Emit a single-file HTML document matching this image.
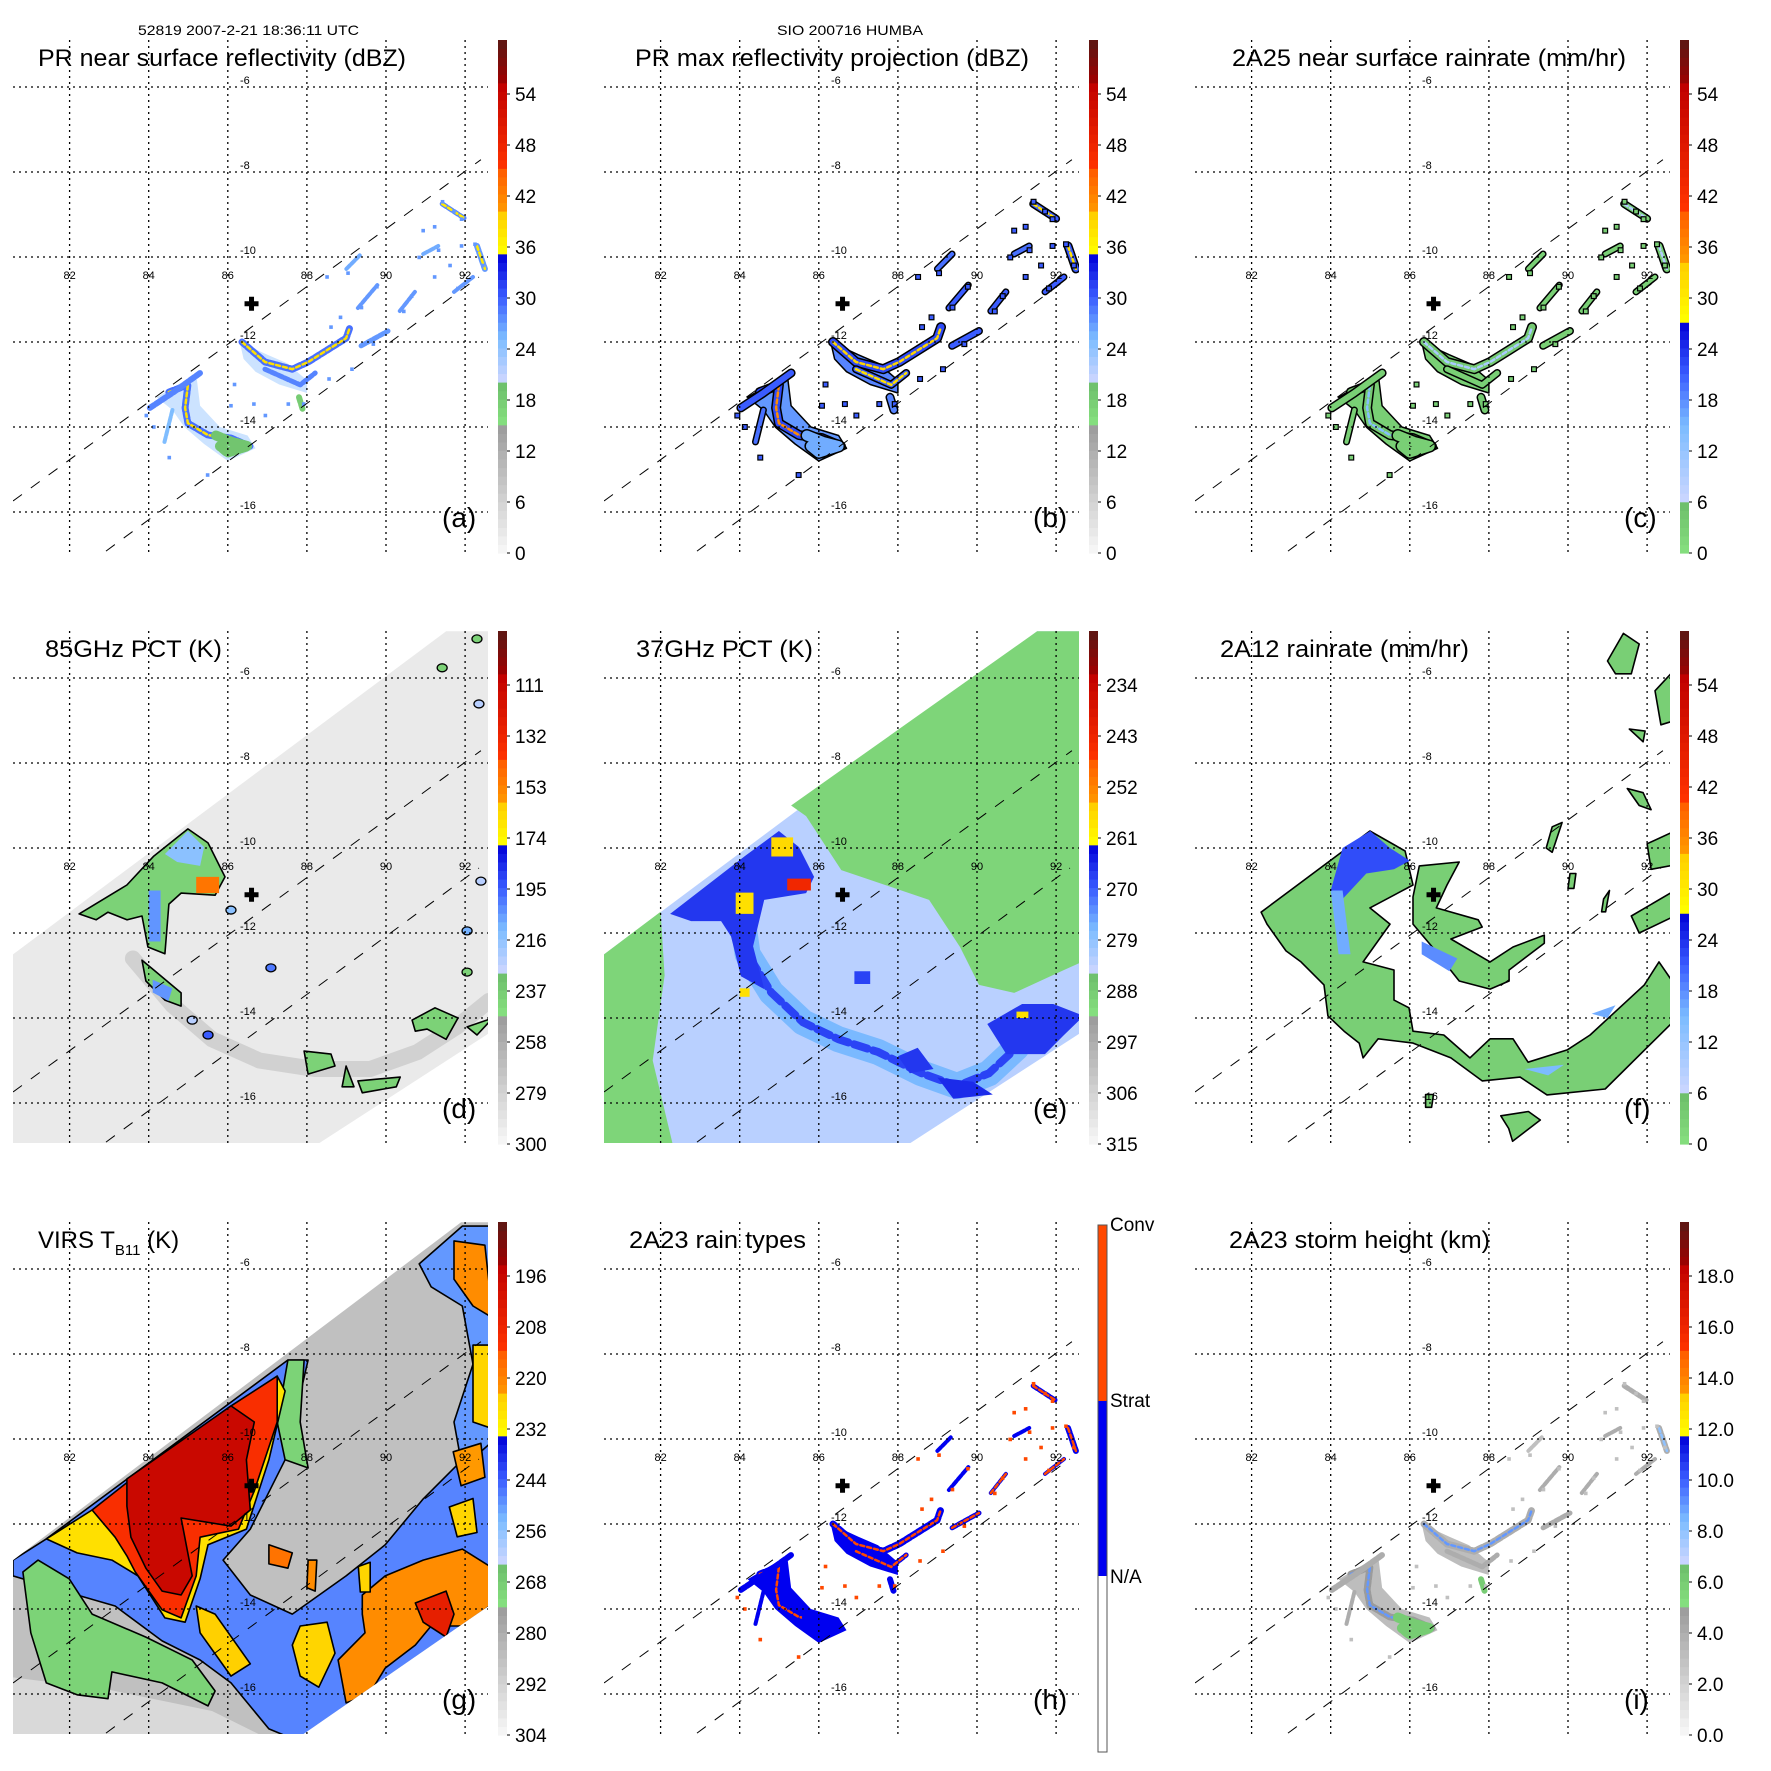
<!DOCTYPE html>
<html><head><meta charset="utf-8"><title>TRMM overpass panels</title>
<style>html,body{margin:0;padding:0;background:#fff}svg{display:block}</style></head>
<body>
<svg id="fig" xmlns="http://www.w3.org/2000/svg" width="1771" height="1771" viewBox="0 0 1771 1771" font-family="Liberation Sans, Arial, sans-serif">
<rect width="1771" height="1771" fill="#fff"/>
<text x="138" y="35" font-size="14" textLength="221" lengthAdjust="spacingAndGlyphs">52819 2007-2-21 18:36:11 UTC</text>
<text x="777" y="35" font-size="14" textLength="146" lengthAdjust="spacingAndGlyphs">SIO 200716 HUMBA</text>
</svg>
<script>
// ---------- data ----------
const latTicks = [-6,-8,-10,-12,-14,-16];
const lonTicks = [82,84,86,88,90,92];
const centerMark = [86.6,-11.1];
const swathUpper = [[80.57,-15.74],[92.4,-7.71]];
const swathLower = [[82.92,-16.92],[92.35,-10.47]];
const mwSwath = [[80.5,-12.55],[91.52,-4.9],[92.7,-4.9],[92.7,-14.3],[88.3,-16.95],[80.5,-16.95]];
const virsSwath = [[80.5,-12.9],[91.9,-4.9],[92.7,-4.9],[92.7,-13.86],[87.9,-16.95],[80.5,-16.95]];

const ticksDbz = ['0','6','12','18','24','30','36','42','48','54'];
const ticksRain = ['0','6','12','18','24','30','36','42','48','54'];
const ticks85 = ['300','279','258','237','216','195','174','153','132','111'];
const ticks37 = ['315','306','297','288','279','270','261','252','243','234'];
const ticksVirs = ['304','292','280','268','256','244','232','220','208','196'];
const ticksHeight = ['0.0','2.0','4.0','6.0','8.0','10.0','12.0','14.0','16.0','18.0'];

// PR rain areas (shared shapes)
const prAreas = [
 [[84.2,-13.3],[85.2,-12.75],[85.3,-13.5],[85.8,-14.0],[86.5,-14.2],[86.7,-14.5],[86.0,-14.8],[85.4,-14.4],[84.9,-14.0],[84.6,-13.6]],
 [[86.3,-12.0],[87.0,-12.3],[87.5,-12.5],[88.0,-12.9],[88.0,-13.2],[87.3,-13.0],[86.7,-12.7],[86.4,-12.4]]
];
const areaA = [24,24], areaB = [27,28], areaC = [3,3], areaH = [1,1], areaI = [4,4];
const areaOpacityA = 0.45;

// PR rain features (lon,lat polylines)
const prFeatures = [
 [[84.51,-13.18],[84.99,-13.01],[84.92,-13.55],[84.99,-13.91],[85.5,-14.19],[86.08,-14.26],[86.56,-14.45]],
 [[84.03,-13.55],[84.6,-13.2],[85.3,-12.73]],
 [[86.36,-12.0],[86.94,-12.47],[87.63,-12.64],[88.03,-12.47],[88.51,-12.19],[88.99,-11.91],[89.09,-11.65]],
 [[86.94,-12.64],[87.83,-13.01],[88.21,-12.73]],
 [[89.37,-12.09],[90.05,-11.74]],
 [[90.35,-11.27],[90.73,-10.82]],
 [[89.29,-11.2],[89.78,-10.66]],
 [[91.42,-8.75],[92.0,-9.1]],
 [[92.3,-9.74],[92.5,-10.28]],
 [[90.94,-9.93],[91.32,-9.74]],
 [[91.72,-10.82],[92.2,-10.47]],
 [[89.0,-10.28],[89.37,-9.93]],
 [[85.7,-14.2],[86.1,-14.35],[86.5,-14.45],[86.0,-14.6],[85.8,-14.45]],
 [[87.8,-13.3],[87.9,-13.6]],
 [[84.6,-13.6],[84.4,-14.35]]
];
const prWidths = [7,6,7,5,5,4,4,5,6,4,4,4,10,6,4];
const prDots = [[91.43,-8.70],[91.72,-8.93],[91.91,-9.11],[91.23,-9.29],[90.94,-9.38],[90.84,-10.01],[91.33,-9.84],[91.62,-10.20],[91.91,-9.74],[92.25,-9.70],[92.45,-10.20],[91.82,-10.74],[91.23,-10.47],[90.65,-10.92],[90.45,-11.28],[89.77,-10.70],[89.38,-11.19],[89.04,-10.38],[88.51,-10.47],[88.85,-11.42],[88.61,-11.65],[89.68,-12.05],[89.14,-12.64],[88.56,-12.87],[87.92,-13.46],[86.66,-13.46],[86.08,-13.50],[86.95,-13.73],[85.49,-15.13],[84.52,-14.72],[84.13,-14.00],[83.94,-13.73],[86.17,-13.00],[87.53,-13.46]];
const baseA = [29,28,29,28,27,27,27,28,27,26,27,26,19,18,25];
const coreA = [38,0,38,0,0,0,0,37,37,0,0,0,0,0,0];
const baseB = [31,30,31,30,30,30,30,30,30,29,30,29,26,28,29];
const coreB = [41,0,39,38,0,0,0,38,38,0,0,0,0,0,0];
const baseC = [4,3,4,3,3,3,3,3,3,3,3,3,3,4,3];
const coreC = [14,0,10,0,0,0,0,9,9,0,0,0,0,0,0];
const baseH = [1,1,1,1,1,1,1,1,1,1,1,1,1,1,1];
const coreH = [2,0,2,2,2,2,0,2,2,0,2,0,0,0,0];
const baseI = [5,4,4,4,4,4,4,4,4,4,4,3,6,6,4];
const coreI = [9,0,9,0,0,0,0,0,8,0,0,0,0,0,0];
const dotValA = 27, dotValB = 30, dotValC = 3, dotValH = 2, dotValI = 3;

// 85GHz blobs
const d85Polys = [
 [[82.24,-11.55],[83.45,-10.87],[84.13,-10.19],[84.99,-9.55],[85.5,-9.88],[85.93,-10.68],[85.68,-11.11],[84.82,-11.06],[84.51,-11.32],[84.41,-12.49],[83.98,-12.33],[83.83,-11.6],[83.45,-11.69],[82.97,-11.51],[82.67,-11.69]],
 [[83.83,-12.64],[84.13,-12.87],[84.82,-13.41],[84.82,-13.72],[84.41,-13.58],[83.93,-13.13]],
 [[87.93,-14.78],[88.61,-14.85],[88.71,-15.13],[88.03,-15.32]],
 [[89.29,-15.48],[90.36,-15.39],[90.26,-15.62],[89.4,-15.76]],
 [[88.99,-15.13],[89.19,-15.62],[88.89,-15.62]],
 [[90.66,-14.05],[91.24,-13.76],[91.82,-14.0],[91.52,-14.5],[91.04,-14.26],[90.74,-14.31]],
 [[92.05,-14.21],[92.7,-14.0],[92.3,-14.4]]
];
const d85PolyVals = [240,240,240,240,235,240,242];
const d85Patches = [
 [[84.41,-10.14],[84.99,-9.6],[85.4,-9.98],[85.3,-10.42],[84.72,-10.33]],
 [[85.2,-10.68],[85.78,-10.68],[85.78,-11.06],[85.2,-11.06]],
 [[84.0,-11.0],[84.3,-11.0],[84.3,-12.2],[84.0,-12.2]],
 [[84.1,-13.1],[84.6,-13.3],[84.5,-13.6],[84.1,-13.4]]
];
const d85PatchVals = [215,150,205,205];
const d85Spots = [[85.1,-14.05],[85.5,-14.4],[87.09,-12.82],[86.08,-11.46],[91.42,-5.76],[92.3,-5.08],[92.35,-6.61],[92.4,-10.78],[92.05,-11.95],[92.05,-12.92]];
const d85SpotVals = [225,195,200,215,240,240,225,225,210,240];
const d85Ring = [[83.6,-12.6],[84.6,-13.7],[85.6,-14.5],[86.8,-15.0],[88.2,-15.2],[89.6,-15.2],[90.8,-14.8],[91.8,-14.2],[92.6,-13.6]];
const d85Base = 292, d85RingVal = 272;

// 37GHz
const e37Green = [[85.3,-9.0],[85.68,-9.25],[86.57,-10.52],[88.79,-11.22],[89.57,-12.33],[90.05,-13.22],[90.94,-13.41],[92.2,-12.87],[92.7,-12.66],[92.7,-4.9],[91.52,-4.9]];
const e37GreenSW = [[80.5,-12.55],[82.0,-11.5],[82.1,-13.0],[81.8,-15.0],[82.3,-16.95],[80.5,-16.95]];
const e37Dark = [
 [[82.24,-11.55],[84.13,-10.19],[84.99,-9.6],[85.5,-9.98],[85.88,-10.68],[85.68,-11.06],[84.62,-11.22],[84.34,-12.31],[84.62,-13.32],[84.03,-13.02],[83.78,-12.08],[83.53,-11.72],[82.77,-11.72]],
 [[90.26,-14.14],[91.14,-13.67],[91.93,-13.67],[92.7,-13.95],[92.2,-14.4],[91.72,-14.85],[90.74,-14.85]],
 [[88.0,-14.9],[88.5,-14.7],[88.9,-15.2],[88.3,-15.3]],
 [[89.0,-15.4],[89.9,-15.5],[90.4,-15.8],[89.4,-15.9]],
 [[86.9,-12.9],[87.3,-12.9],[87.3,-13.2],[86.9,-13.2]]
];
const e37DarkVals = [267,267,267,266,268];
const e37Hot = [
 [[83.9,-11.05],[84.35,-11.05],[84.35,-11.55],[83.9,-11.55]],
 [[84.8,-9.75],[85.35,-9.75],[85.35,-10.2],[84.8,-10.2]],
 [[85.2,-10.72],[85.8,-10.72],[85.8,-11.0],[85.2,-11.0]],
 [[91.0,-13.85],[91.3,-13.85],[91.3,-14.0],[91.0,-14.0]],
 [[84.0,-13.3],[84.25,-13.3],[84.25,-13.5],[84.0,-13.5]]
];
const e37HotVals = [258,257,244,258,258];
const e37Ring = [[84.0,-11.2],[84.2,-12.5],[84.8,-13.4],[85.6,-14.1],[86.5,-14.5],[87.5,-14.8],[88.6,-15.3],[89.5,-15.6],[90.3,-15.3],[91.0,-14.7]];
const e37Base = 283, e37GreenVal = 290, e37RingVal = 277, e37RingCoreVal = 268;

// 2A12
const f12Polys = [
 [[82.24,-11.51],[84.99,-9.6],[85.88,-10.07],[86.08,-10.87],[84.99,-11.41],[85.5,-11.79],[84.82,-12.68],[85.6,-12.87],[85.6,-13.58],[85.98,-13.76],[86.08,-14.31],[86.86,-14.4],[87.52,-14.94],[88.03,-14.49],[88.61,-14.49],[88.99,-15.04],[89.98,-14.75],[90.56,-14.4],[91.93,-13.22],[92.3,-12.68],[92.7,-13.22],[92.7,-14.05],[90.94,-15.67],[89.47,-15.81],[88.79,-15.39],[87.83,-15.48],[87.04,-14.94],[86.08,-14.59],[85.2,-14.49],[84.82,-14.94],[84.72,-14.59],[84.34,-14.31],[83.93,-13.95],[83.83,-13.22],[83.25,-12.68],[82.87,-12.42],[82.39,-11.79]],
 [[86.24,-10.42],[87.25,-10.33],[86.94,-10.87],[86.67,-11.41],[87.73,-11.69],[87.83,-11.86],[87.04,-12.14],[88.03,-12.68],[88.61,-12.33],[89.4,-12.05],[89.4,-12.24],[88.51,-12.87],[88.51,-13.13],[88.03,-13.32],[87.25,-13.13],[86.57,-12.33],[86.08,-11.79],[86.08,-11.15]],
 [[91.5,-8.6],[91.9,-8.7],[92.1,-9.1],[91.8,-9.0]],
 [[91.6,-11.6],[92.7,-11.0],[92.7,-11.6],[91.8,-12.0]],
 [[92.2,-6.3],[92.7,-5.8],[92.7,-7.0],[92.35,-7.1]],
 [[91.0,-5.6],[91.4,-4.95],[91.8,-5.2],[91.6,-5.9],[91.2,-5.9]],
 [[91.55,-7.2],[91.95,-7.25],[91.9,-7.5]],
 [[88.3,-16.3],[89.0,-16.2],[89.3,-16.4],[88.6,-16.9],[88.5,-16.6]],
 [[89.6,-9.5],[89.85,-9.4],[89.6,-10.1],[89.45,-10.0]],
 [[92.0,-9.9],[92.7,-9.6],[92.7,-10.4],[92.1,-10.5]],
 [[90.05,-10.6],[90.2,-10.6],[90.15,-10.95],[90.0,-10.95]],
 [[90.9,-11.2],[91.05,-11.0],[90.95,-11.5],[90.85,-11.5]],
 [[86.4,-15.8],[86.6,-15.8],[86.55,-16.1],[86.4,-16.1]]
];
const f12Vals = [3,3,3,3,3,3,3,3,3,3,3,3,3];
const f12Patches = [
 [[84.3,-10.0],[85.0,-9.6],[85.5,-10.0],[86.0,-10.3],[85.6,-10.5],[84.9,-10.6],[84.3,-11.2],[84.0,-11.0]],
 [[84.0,-11.0],[84.3,-11.0],[84.5,-12.5],[84.2,-12.5]],
 [[86.3,-12.2],[87.2,-12.6],[87.0,-12.9],[86.3,-12.5]],
 [[90.6,-13.9],[91.2,-13.7],[91.0,-14.0]],
 [[88.9,-15.2],[89.9,-15.1],[89.5,-15.35]]
];
const f12PatchVals = [22,16,18,16,15];

// VIRS
const gLayers = [
 [[80.57,-12.85],[81.41,-12.35],[87.52,-8.14],[88.03,-8.14],[87.45,-10.49],[86.57,-12.12],[85.88,-12.85],[86.57,-13.67],[87.63,-14.12],[88.99,-13.22],[89.98,-12.49],[90.94,-11.41],[91.93,-10.49],[92.7,-10.05],[92.7,-13.86],[89.47,-16.21],[88.03,-17.2],[87.04,-16.82],[86.08,-15.74],[85.3,-15.2],[84.34,-14.75],[83.15,-13.93],[82.19,-13.67],[80.57,-13.22]],
 [[90.84,-5.88],[91.93,-4.99],[92.7,-4.99],[92.7,-10.05],[91.93,-10.68],[91.72,-9.6],[92.2,-8.24],[91.93,-6.87],[91.14,-6.42]],
 [[80.82,-13.13],[81.2,-12.85],[81.99,-13.29],[82.57,-14.12],[83.93,-14.66],[85.1,-15.2],[85.68,-15.93],[85.5,-16.28],[84.34,-15.74],[83.07,-15.48],[82.97,-16.11],[82.19,-16.02],[81.41,-15.74],[81.02,-14.56]],
 [[87.52,-8.14],[87.93,-8.14],[87.83,-9.6],[88.03,-10.68],[87.45,-10.49],[87.25,-9.6]],
 [[81.41,-12.35],[82.57,-11.67],[87.25,-8.52],[87.45,-8.87],[87.04,-10.49],[86.47,-12.12],[85.5,-12.49],[85.3,-13.29],[84.92,-14.31],[84.41,-14.21],[83.73,-13.22],[83.07,-12.85],[82.19,-12.68]],
 [[82.57,-11.67],[83.66,-10.87],[86.08,-9.22],[87.25,-8.52],[87.25,-9.6],[86.67,-11.22],[86.27,-12.12],[85.3,-12.31],[85.2,-13.22],[84.82,-14.21],[84.34,-14.02],[83.66,-13.13],[83.45,-12.75],[83.15,-12.31]],
 [[83.45,-10.94],[86.08,-9.22],[86.67,-9.6],[86.47,-10.49],[86.57,-11.67],[86.08,-12.05],[84.82,-11.86],[85.1,-13.22],[84.82,-13.67],[84.34,-13.58],[83.93,-13.04],[83.55,-12.31],[83.45,-11.58]],
 [[89.4,-13.67],[89.98,-13.22],[90.94,-12.85],[91.93,-12.59],[92.7,-13.04],[92.7,-13.86],[92.0,-14.4],[91.14,-14.4],[90.74,-14.85],[89.98,-15.39],[89.57,-16.02],[88.99,-16.21],[88.79,-15.2],[89.47,-14.56],[89.4,-14.12]],
 [[90.74,-13.86],[91.52,-13.58],[91.72,-14.12],[91.52,-14.66],[90.94,-14.31]],
 [[87.83,-14.4],[88.51,-14.31],[88.71,-15.04],[88.3,-15.84],[87.83,-15.58],[87.63,-14.85]],
 [[87.04,-12.49],[87.63,-12.68],[87.52,-13.04],[87.04,-12.94]],
 [[88.03,-12.85],[88.25,-12.85],[88.21,-13.58],[88.0,-13.5]],
 [[85.2,-13.93],[85.68,-14.12],[86.57,-15.29],[86.08,-15.58],[85.3,-14.56]],
 [[91.72,-5.34],[92.5,-5.44],[92.7,-7.15],[92.2,-6.87],[91.72,-6.24]],
 [[92.2,-7.79],[92.7,-7.79],[92.7,-9.76],[92.2,-9.6]],
 [[91.7,-10.3],[92.4,-10.1],[92.5,-10.9],[91.9,-11.1]],
 [[91.6,-11.6],[92.2,-11.4],[92.3,-12.2],[91.8,-12.3]],
 [[89.3,-13.0],[89.6,-12.9],[89.6,-13.6],[89.35,-13.6]]
];
const gVals = [248,250,270,270,228,212,197,222,206,226,218,222,225,222,226,224,226,226];
const gBase = 286, gLightBase = 294;
const gLight = [[80.5,-15.6],[83.0,-15.9],[85.6,-16.4],[86.8,-16.95],[80.5,-16.95]];

// ---------- helpers ----------
const NS = 'http://www.w3.org/2000/svg';
const svg = document.getElementById('fig');
const PW = 591;
function X(lon){ return 69.6 + (lon - 82) * 39.55; }
function Y(lat){ return 87 + (-6 - lat) * 42.5; }
function el(tag, attrs, parent){ const e = document.createElementNS(NS, tag); for (const k in attrs) e.setAttribute(k, attrs[k]); (parent||svg).appendChild(e); return e; }
function hex(c){ return [parseInt(c.substr(1,2),16),parseInt(c.substr(3,2),16),parseInt(c.substr(5,2),16)]; }
function interp(stops, f){
  f = Math.max(0, Math.min(1, f));
  for (let i = 1; i < stops.length; i++){
    if (f <= stops[i][0]){
      const a = stops[i-1], b = stops[i]; const t = (b[0]-a[0]) ? (f-a[0])/(b[0]-a[0]) : 0;
      const ca = hex(a[1]), cb = hex(b[1]);
      return 'rgb(' + ca.map((v,j)=>Math.round(v+(cb[j]-v)*t)).join(',') + ')';
    }
  }
  return stops[stops.length-1][1];
}
const palMain = [[0,'#f8f8f8'],[0.252,'#9a9a9a'],[0.253,'#86e07f'],[0.335,'#6cbd6a'],[0.336,'#ccd6ff'],[0.42,'#7cbcff'],[0.5,'#3a5cff'],[0.583,'#0000d8'],[0.584,'#ffff00'],[0.665,'#ffcc00'],[0.666,'#ff9900'],[0.75,'#ff5a00'],[0.751,'#ff3300'],[0.916,'#c00000'],[0.917,'#a00000'],[1,'#5a1814']];
const palRain = [[0,'#86e07f'],[0.1,'#6cbd6a'],[0.101,'#ccd6ff'],[0.25,'#7cbcff'],[0.35,'#3a5cff'],[0.45,'#0000d8'],[0.451,'#ffff00'],[0.57,'#ffcc00'],[0.571,'#ff9900'],[0.67,'#ff5a00'],[0.671,'#ff3300'],[0.91,'#c00000'],[0.911,'#a00000'],[1,'#5a1814']];
const palH = ['#ffffff','#0000f0','#ff4800'];
const scales = {
  a: v => interp(palMain, v/60), b: v => interp(palMain, v/60), c: v => interp(palRain, v/60),
  d: v => interp(palMain, (300-v)*0.9/189), e: v => interp(palMain, (315-v)*0.9/81),
  f: v => interp(palRain, v/60), g: v => interp(palMain, (304-v)*0.9/108),
  h: v => palH[v], i: v => interp(palMain, v/20)
};
function ptsStr(arr){ return arr.map(p => X(p[0]).toFixed(1)+','+Y(p[1]).toFixed(1)).join(' '); }

const panels = [
 {k:'a',c:0,r:0,title:'PR near surface reflectivity (dBZ)',tx:[38,406],ticks:ticksDbz,pal:palMain},
 {k:'b',c:1,r:0,title:'PR max reflectivity projection (dBZ)',tx:[44,438],ticks:ticksDbz,pal:palMain},
 {k:'c',c:2,r:0,title:'2A25 near surface rainrate (mm/hr)',tx:[50,444],ticks:ticksRain,pal:palRain},
 {k:'d',c:0,r:1,title:'85GHz PCT (K)',tx:[45,222],ticks:ticks85,pal:palMain},
 {k:'e',c:1,r:1,title:'37GHz PCT (K)',tx:[45,222],ticks:ticks37,pal:palMain},
 {k:'f',c:2,r:1,title:'2A12 rainrate (mm/hr)',tx:[38,287],ticks:ticksRain,pal:palRain},
 {k:'g',c:0,r:2,title:'VIRS',tx:[38,188],ticks:ticksVirs,pal:palMain},
 {k:'h',c:1,r:2,title:'2A23 rain types',tx:[38,215],ticks:null,pal:null},
 {k:'i',c:2,r:2,title:'2A23 storm height (km)',tx:[47,308],ticks:ticksHeight,pal:palMain}
];

function drawAreas(g, k, vals, outline, op){
  prAreas.forEach((a,i) => {
    const e = el('polygon',{points:ptsStr(a),fill:scales[k](vals[i]),'fill-opacity':op,stroke:outline?'#000':'none','stroke-width':1.5,'stroke-linejoin':'round'},g);
    
    
  });
}
function drawPR(g, k, base, core, dotVal, outline){
  const col = scales[k];
  prFeatures.forEach((f,i) => {
    if (outline){
      const o = el('polyline',{points:ptsStr(f),fill:'none',stroke:'#000','stroke-width':prWidths[i]+3,'stroke-linejoin':'round','stroke-linecap':'round'},g);
      
      
    }
    const p = el('polyline',{points:ptsStr(f),fill:'none',stroke:col(base[i]),'stroke-width':prWidths[i],'stroke-linejoin':'round','stroke-linecap':'round','stroke-dasharray':outline?'none':'5 2'},g);
    
    
    if (core[i]){
      const q = el('polyline',{points:ptsStr(f),fill:'none',stroke:col(core[i]),'stroke-width':2.5,'stroke-dasharray':'4 3','stroke-linecap':'round'},g);
      
      
    }
  });
  prDots.forEach(d => {
    if (outline){
      const o = el('rect',{x:X(d[0])-3,y:Y(d[1])-3,width:6,height:6,fill:'#000'},g);
      
      
    }
    const r = el('rect',{x:X(d[0])-1.8,y:Y(d[1])-1.8,width:3.6,height:3.6,fill:col(dotVal)},g);
    
    
  });
}
function polys(g, list, vals, k, stroke, name){
  list.forEach((p,i) => {
    const e = el('polygon',{points:ptsStr(p),fill:scales[k](vals[i]),stroke:stroke||'none','stroke-width':stroke?1.6:0,'stroke-linejoin':'round'},g);
    
    
  });
}

panels.forEach(P => {
  const g = el('g',{transform:'translate('+(P.c*PW)+','+(P.r*PW)+')'});
  
  
  const cid = 'clip-'+P.k;
  const cp = el('clipPath',{id:cid},g);
  el('rect',{x:13,y:40,width:475,height:512},cp);
  const map = el('g',{'clip-path':'url(#'+cid+')'},g);
  
  

  if (P.k==='a'){ drawAreas(map,'a',areaA,false,areaOpacityA); drawPR(map,'a',baseA,coreA,dotValA,false); }
  if (P.k==='b'){ drawAreas(map,'b',areaB,true,1); drawPR(map,'b',baseB,coreB,dotValB,true); }
  if (P.k==='c'){ drawAreas(map,'c',areaC,true,1); drawPR(map,'c',baseC,coreC,dotValC,true); }
  if (P.k==='h'){ drawAreas(map,'h',areaH,false,1); drawPR(map,'h',baseH,coreH,dotValH,false); }
  if (P.k==='i'){ drawAreas(map,'i',areaI,false,0.8); drawPR(map,'i',baseI,coreI,dotValI,false); }
  if (P.k==='d'){
    const s = el('polygon',{points:ptsStr(mwSwath),fill:scales.d(d85Base)},map);
    
    
    const r = el('polyline',{points:ptsStr(d85Ring),fill:'none',stroke:scales.d(d85RingVal),'stroke-width':16,'stroke-opacity':0.7,'stroke-linecap':'round'},map);
    
    
    polys(map,d85Polys,d85PolyVals,'d','#000','cold-cloud-region');
    polys(map,d85Patches,d85PatchVals,'d',null,'ice-scatter-core');
    d85Spots.forEach((s,i) => {
      const e = el('ellipse',{cx:X(s[0]),cy:Y(s[1]),rx:5,ry:4,fill:scales.d(d85SpotVals[i]),stroke:'#000','stroke-width':1.3},map);
      
      
    });
  }
  if (P.k==='e'){
    const s = el('polygon',{points:ptsStr(mwSwath),fill:scales.e(e37Base)},map);
    
    
    const g1 = el('polygon',{points:ptsStr(e37Green),fill:scales.e(e37GreenVal)},map);
    
    
    const g2 = el('polygon',{points:ptsStr(e37GreenSW),fill:scales.e(e37GreenVal)},map);
    
    
    const r = el('polyline',{points:ptsStr(e37Ring),fill:'none',stroke:scales.e(e37RingVal),'stroke-width':26,'stroke-linecap':'round','stroke-linejoin':'round'},map);
    
    
    const r2 = el('polyline',{points:ptsStr(e37Ring),fill:'none',stroke:scales.e(e37RingCoreVal),'stroke-width':8,'stroke-dasharray':'14 6','stroke-linecap':'round'},map);
    
    
    polys(map,e37Dark,e37DarkVals,'e',null,'heavy-rain-region');
    polys(map,e37Hot,e37HotVals,'e',null,'emission-core');
  }
  if (P.k==='f'){
    polys(map,f12Polys,f12Vals,'f','#000','rain-area');
    polys(map,f12Patches,f12PatchVals,'f',null,'heavy-rain-patch');
  }
  if (P.k==='g'){
    const s = el('polygon',{points:ptsStr(virsSwath),fill:scales.g(gBase)},map);
    
    
    const l = el('polygon',{points:ptsStr(gLight),fill:scales.g(gLightBase)},map);
    
    
    const gg = el('g',{'clip-path':'url(#vclip)'},map);
    const vc = el('clipPath',{id:'vclip'},g);
    el('polygon',{points:ptsStr(virsSwath)},vc);
    polys(gg,gLayers,gVals,'g','#000','cloud-top-region');
  }

  [swathUpper, swathLower].forEach(L => {
    const e = el('line',{x1:X(L[0][0]),y1:Y(L[0][1]),x2:X(L[1][0]),y2:Y(L[1][1]),stroke:'#000','stroke-width':1,'stroke-dasharray':'11 11'},map);
    
    
  });
  latTicks.forEach(t => {
    const e = el('line',{x1:13,x2:488,y1:Y(t),y2:Y(t),stroke:'#000','stroke-width':1.3,'stroke-dasharray':'2 4'},g);
    
    
    const tx = el('text',{x:240,y:Y(t)-3,'font-size':11},g);
    tx.textContent = t;
    
    
  });
  lonTicks.forEach(t => {
    const e = el('line',{x1:X(t),x2:X(t),y1:40,y2:552,stroke:'#000','stroke-width':1.3,'stroke-dasharray':'2 4'},g);
    
    
    const tx = el('text',{x:X(t),y:279,'font-size':11,'text-anchor':'middle'},g);
    tx.textContent = t;
    
    
  });
  const cx = X(centerMark[0]), cy = Y(centerMark[1]);
  const cr = el('path',{d:'M'+(cx-7)+','+(cy-2.5)+'h14v5h-14z M'+(cx-2.5)+','+(cy-7)+'h5v14h-5z',fill:'#000'},g);
  
  

  const tt = el('text',{x:P.tx[0],y:66,'font-size':24,textLength:P.tx[1]-P.tx[0],lengthAdjust:'spacingAndGlyphs'},g);
  
  
  if (P.k==='g'){
    tt.removeAttribute('textLength');
    tt.innerHTML = 'VIRS T<tspan font-size="15" dy="7">B11</tspan><tspan dy="-7"> (K)</tspan>';
  } else tt.textContent = P.title;

  const lab = el('text',{x:442,y:527,'font-size':28},g);
  lab.textContent = '('+P.k+')';
  
  

  const cb = el('g',{},g);
  
  
  if (P.k==='h'){
    const segs = [[43,219,'#ff4800'],[219,394,'#0000f0'],[394,570,'#ffffff']];
    segs.forEach(s => {
      const r = el('rect',{x:507,y:s[0],width:9,height:s[1]-s[0],fill:s[2]},cb);
      
      
    });
    el('rect',{x:507,y:43,width:9,height:527,fill:'none',stroke:'#555','stroke-width':1},cb);
    [['Conv',49],['Strat',225],['N/A',401]].forEach(l => {
      const t = el('text',{x:519,y:l[1],'font-size':19},cb);
      t.textContent = l[0];
      
      
    });
  } else {
    const n = 60;
    for (let i = 0; i < n; i++){
      const y1 = 553 - i/n*513, y0 = 553 - (i+1)/n*513;
      el('rect',{x:498,y:y0,width:9,height:y1-y0+0.6,fill:interp(P.pal,(i+0.5)/n)},cb);
    }
    P.ticks.forEach((t,i) => {
      const y = 553 - i*51;
      el('line',{x1:507,x2:510,y1:y,y2:y,stroke:'#000','stroke-width':1},cb);
      const tx = el('text',{x:515,y:y+7,'font-size':19},cb);
      tx.textContent = t;
      
      
    });
  }
});
</script>
</body></html>
